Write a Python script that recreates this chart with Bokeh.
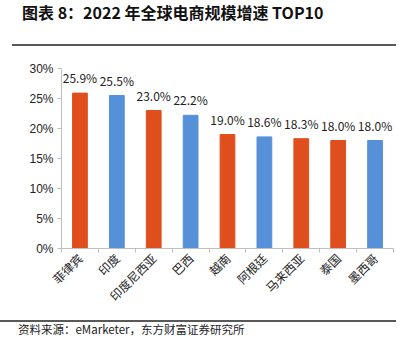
from bokeh.plotting import figure
from bokeh.models import ColumnDataSource, FixedTicker, Range1d, Div
from bokeh.layouts import column
from bokeh.embed import file_html
from bokeh.resources import INLINE
from bokeh.core.properties import value
import math

title_text = "图表 8：2022 年全球电商规模增速 TOP10"
source_text = "资料来源：eMarketer，东方财富证券研究所"
countries = ["菲律宾", "印度", "印度尼西亚", "巴西", "越南", "阿根廷", "马来西亚", "泰国", "墨西哥"]
growth = [25.9, 25.5, 23.0, 22.2, 19.0, 18.6, 18.3, 18.0, 18.0]
colors = ["#DF4F1E", "#5690D8", "#DF4F1E", "#5690D8", "#DF4F1E", "#5690D8", "#DF4F1E", "#DF4F1E", "#5690D8"]
y_ticks = [0, 5, 10, 15, 20, 25, 30]

W = 396
xs = [i + 0.5 for i in range(len(countries))]
src = ColumnDataSource(dict(x=xs, y=growth, c=colors, lab=[f"{v:.1f}%" for v in growth]))

title_div = Div(width=W, height=50, margin=(0, 0, 0, 0), text=(
    "<div style='width:384px;height:46px;margin-left:12px;border-bottom:2px solid #595959;"
    "box-sizing:border-box;'><div style='padding-left:10px;padding-top:3px;"
    "font-family:\"Noto Sans CJK SC\";font-weight:bold;font-size:16px;line-height:18px;"
    f"color:#111;white-space:nowrap'>{title_text}</div></div>"))

p = figure(width=W, height=270, output_backend="svg", toolbar_location=None,
           x_range=Range1d(0, len(countries)), y_range=Range1d(0, 30),
           min_border_left=61, min_border_right=3, min_border_top=18, min_border_bottom=72,
           margin=(0, 0, 0, 0))
p.outline_line_color = None
p.grid.grid_line_color = None
p.background_fill_color = "white"
p.border_fill_color = "white"

p.vbar(x="x", top="y", width=0.4, color="c", source=src)
p.text(x="x", y="y", text="lab", source=src, text_align="center", text_baseline="bottom",
       y_offset=-7, text_font=value("Noto Sans CJK SC"), text_font_size="12px", text_color="#222222")

# x axis: labels at category centres, ticks at category boundaries
p.xaxis.ticker = FixedTicker(ticks=xs, minor_ticks=list(range(len(countries) + 1)))
p.xaxis.major_label_overrides = {x: n for x, n in zip(xs, countries)}
p.xaxis.major_label_orientation = math.pi / 4
p.xaxis.major_tick_out = 0
p.xaxis.major_tick_in = 0
p.xaxis.minor_tick_out = 4
p.xaxis.minor_tick_in = 0
p.xaxis.axis_line_color = "#BFBFBF"
p.xaxis.minor_tick_line_color = "#BFBFBF"
p.xaxis.major_label_text_font = "Noto Sans CJK SC"
p.xaxis.major_label_text_font_size = "12px"
p.xaxis.major_label_text_color = "#222222"
p.xaxis.major_label_standoff = 3

# y axis
p.yaxis.ticker = FixedTicker(ticks=y_ticks)
p.yaxis.major_label_overrides = {t: f"{t}%" for t in y_ticks}
p.yaxis.major_tick_out = 4
p.yaxis.major_tick_in = 0
p.yaxis.minor_tick_line_color = None
p.yaxis.axis_line_color = "#BFBFBF"
p.yaxis.major_tick_line_color = "#BFBFBF"
p.yaxis.major_label_text_font = "Liberation Sans"
p.yaxis.major_label_text_font_size = "12px"
p.yaxis.major_label_text_color = "#222222"
p.yaxis.major_label_standoff = 4

source_div = Div(width=W, height=25, margin=(0, 0, 0, 0), text=(
    "<div style='width:396px;height:20px;border-top:2px solid #595959;box-sizing:border-box;"
    "padding-left:18px;padding-top:0px;font-family:\"Noto Sans CJK SC\";font-size:11.5px;"
    f"line-height:14px;color:#222;white-space:nowrap'>{source_text}</div>"))

layout = column(title_div, p, source_div, spacing=0)
open("out.html", "w").write(file_html(layout, INLINE))
